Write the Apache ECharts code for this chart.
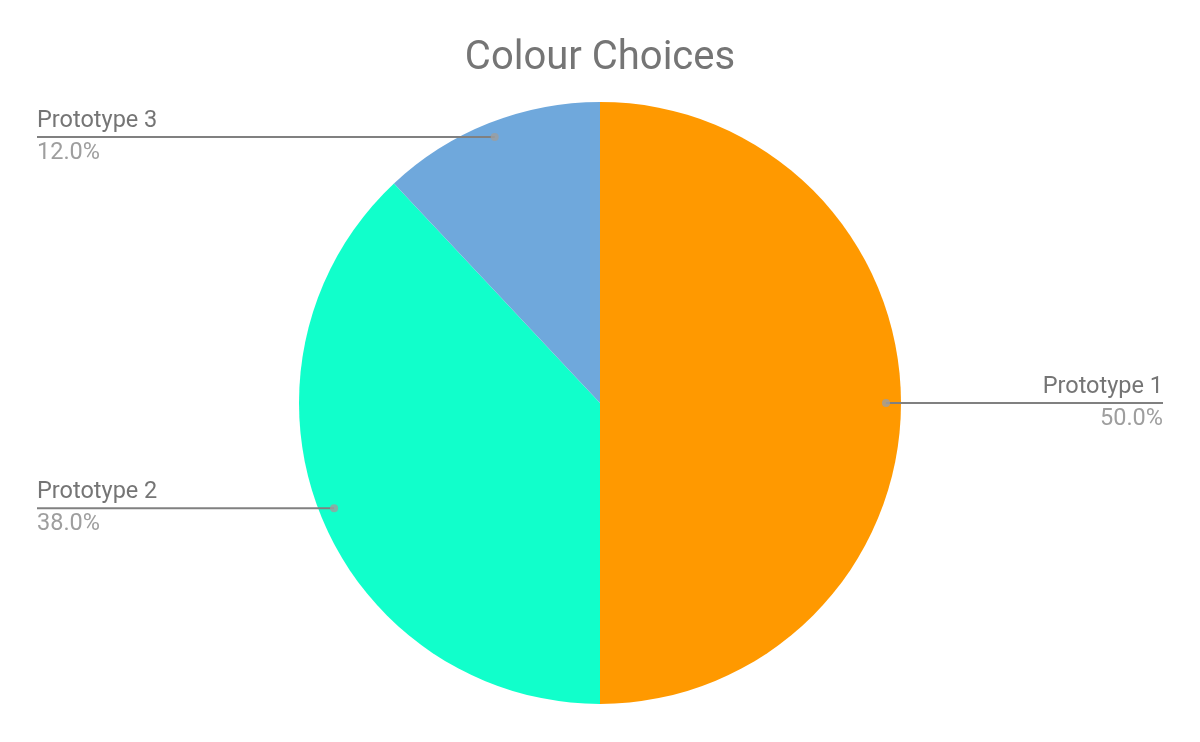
<!DOCTYPE html>
<html>
<head>
<meta charset="utf-8">
<script src="https://cdn.jsdelivr.net/npm/echarts@6/dist/echarts.min.js"></script>
<style>html,body{margin:0;padding:0;background:#fff}#c{width:1200px;height:742px}</style>
</head>
<body>
<div id="c"></div>
<script>
const categories = ['Prototype 1', 'Prototype 2', 'Prototype 3'];
const values = [50, 38, 12];
const colors = ['#FF9900', '#11FFCB', '#6FA8DC'];
const titleText = 'Colour Choices';

const total = values.reduce((a, b) => a + b, 0);
let cum = 0;
const mids = values.map(v => { const m = cum + v / 2; cum += v; return m / total * 100; });

const CENTER = ['50%', '54.3%'];
const R = 301;
const RL = 286;

const chart = echarts.init(document.getElementById('c'), null, {renderer: 'canvas'});
chart.setOption({
  animation: false,
  backgroundColor: '#ffffff',
  title: {
    text: titleText, left: 'center', top: 34,
    textStyle: {fontFamily: 'Roboto', fontSize: 40, fontWeight: 'normal', color: '#757575'}
  },
  polar: {center: CENTER, radius: R},
  angleAxis: {type: 'value', min: 0, max: 100, startAngle: 90, clockwise: true, show: false},
  radiusAxis: {type: 'value', min: 0, max: R, show: false},
  series: [
    {
      type: 'pie', center: CENTER, radius: [0, R], startAngle: 90, clockwise: true,
      silent: true, label: {show: false}, labelLine: {show: false},
      itemStyle: {borderWidth: 0},
      data: categories.map((c, i) => ({name: c, value: values[i], itemStyle: {color: colors[i]}}))
    },
    {
      type: 'pie', center: CENTER, radius: [0, RL], startAngle: 90, clockwise: true,
      silent: true, z: 3,
      itemStyle: {color: 'rgba(0,0,0,0)', borderWidth: 0},
      label: {
        show: true, position: 'outside', alignTo: 'edge', edgeDistance: 37,
        distanceToLabelLine: 0,
        formatter: p => '{n|' + p.name + '}\n{p|' + (p.value / total * 100).toFixed(1) + '%}',
        rich: {
          n: {fontFamily: 'Roboto', fontSize: 23.5, color: '#757575', lineHeight: 32},
          p: {fontFamily: 'Roboto', fontSize: 23.5, color: '#9E9E9E', lineHeight: 32}
        }
      },
      labelLine: {show: true, length: 0, length2: 20, smooth: false, minTurnAngle: 0,
        lineStyle: {color: '#808080', width: 2}},
      labelLayout: function (params) {
        const pts = params.labelLinePoints;
        const r = params.labelRect;
        if (!pts) return {};
        const last = pts[pts.length - 1];
        const first = pts[0];
        const newPts = pts.map(p => p.slice());
        if (last[0] > first[0]) {
          newPts[newPts.length - 1][0] = r.x + r.width;
        } else {
          newPts[newPts.length - 1][0] = r.x;
        }
        return {labelLinePoints: newPts};
      },
      data: categories.map((c, i) => ({name: c, value: values[i]}))
    },
    {
      type: 'scatter', coordinateSystem: 'polar', symbol: 'circle', symbolSize: 8, z: 5,
      silent: true,
      itemStyle: {color: '#9E9E9E'},
      data: mids.map(m => [RL, m])
    }
  ]
});
</script>
</body>
</html>
